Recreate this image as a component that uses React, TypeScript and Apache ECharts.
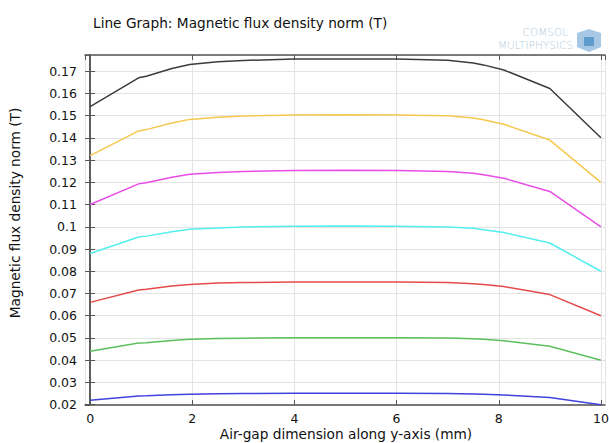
import React, { useEffect, useRef } from "react";
import * as echarts from "echarts";

const xValues = [0, 0.95, 1.1, 1.6, 1.95, 2.5, 3, 4, 5, 6, 7, 7.5, 7.7, 8.1, 9, 10];

const blackSeries = [0.154, 0.167, 0.1677, 0.1712, 0.173, 0.1742, 0.1748, 0.1754, 0.1755, 0.1754, 0.1749, 0.1737, 0.1728, 0.1705, 0.1622, 0.14];
const yellowSeries = [0.132, 0.1431, 0.1437, 0.1467, 0.1483, 0.1493, 0.1498, 0.1503, 0.1504, 0.1503, 0.1499, 0.1489, 0.1481, 0.1461, 0.139, 0.12];
const magentaSeries = [0.11, 0.1193, 0.1198, 0.1223, 0.1236, 0.1244, 0.1249, 0.1253, 0.1254, 0.1253, 0.1249, 0.1241, 0.1234, 0.1218, 0.1159, 0.1];
const cyanSeries = [0.088, 0.0954, 0.0958, 0.0978, 0.0989, 0.0995, 0.0999, 0.1002, 0.1003, 0.1002, 0.0999, 0.0993, 0.0987, 0.0974, 0.0927, 0.08];
const redSeries = [0.066, 0.0716, 0.0719, 0.0734, 0.0741, 0.0747, 0.0749, 0.0752, 0.0752, 0.0752, 0.075, 0.0744, 0.0741, 0.0731, 0.0695, 0.06];
const greenSeries = [0.044, 0.0477, 0.0479, 0.0489, 0.0494, 0.0498, 0.0499, 0.0501, 0.0501, 0.0501, 0.05, 0.0496, 0.0494, 0.0487, 0.0463, 0.04];
const blueSeries = [0.022, 0.0239, 0.024, 0.0245, 0.0247, 0.0249, 0.025, 0.0251, 0.0251, 0.0251, 0.025, 0.0248, 0.0247, 0.0244, 0.0232, 0.02];

const seriesList = [
  { name: "blue", values: blueSeries, color: "#4242e0" },
  { name: "green", values: greenSeries, color: "#5cbf5c" },
  { name: "red", values: redSeries, color: "#e44a4a" },
  { name: "cyan", values: cyanSeries, color: "#55eeee" },
  { name: "magenta", values: magentaSeries, color: "#e84de8" },
  { name: "yellow", values: yellowSeries, color: "#f5c84e" },
  { name: "black", values: blackSeries, color: "#3c3c3c" },
];

const titleText = "Line Graph: Magnetic flux density norm (T)";
const xAxisTitle = "Air-gap dimension along y-axis (mm)";
const yAxisTitle = "Magnetic flux density norm (T)";

const FONT = "DejaVu Sans";
const TITLE_SIZE = 13.7;

function fmt(step: number) {
  return (v: number) => {
    const r = Math.round(v / step) * step;
    if (Math.abs(v - r) > step * 1e-3) return "";
    return String(Number(r.toFixed(4)));
  };
}

export default function App() {
  const ref = useRef<HTMLDivElement>(null);
  useEffect(() => {
    if (!ref.current) return;
    const chart = echarts.init(ref.current, undefined, { renderer: "svg" });
    const axisLineStyle = { color: "#555", width: 1.5 };
    const gridLine = { show: true, lineStyle: { color: "#e4e4e4", width: 1 } };
    chart.setOption({
      animation: false,
      backgroundColor: "#fff",
      textStyle: { fontFamily: FONT },
      title: {
        text: titleText,
        left: 88,
        top: 11,
        textStyle: { fontFamily: FONT, fontSize: TITLE_SIZE, fontWeight: "normal", color: "#111" },
      },
      grid: { left: 85, right: 4, top: 55, bottom: 38, containLabel: false, outerBoundsMode: "none" },
      xAxis: [
        {
          type: "value",
          min: -0.1,
          max: 10.08,
          splitNumber: 5,
          axisLine: { show: true, lineStyle: axisLineStyle },
          axisTick: { show: true, inside: true, length: 5, lineStyle: { color: "#555" } },
          axisLabel: { showMinLabel: false, showMaxLabel: false, margin: 7, fontFamily: FONT, fontSize: 12.5, color: "#111", formatter: fmt(2) },
          splitLine: gridLine,
        },
        {
          type: "value",
          position: "top",
          min: -0.1,
          max: 10.08,
          splitNumber: 5,
          axisLine: { show: true, lineStyle: axisLineStyle },
          axisTick: { show: true, inside: true, length: 5, lineStyle: { color: "#555" } },
          axisLabel: { show: false },
          splitLine: { show: false },
        },
      ],
      yAxis: [
        {
          type: "value",
          min: 0.01986,
          max: 0.17725,
          splitNumber: 15,
          axisLine: { show: true, lineStyle: axisLineStyle },
          axisTick: { show: true, inside: true, length: 5, lineStyle: { color: "#555" } },
          axisLabel: { showMinLabel: false, showMaxLabel: false, margin: 8, fontFamily: FONT, fontSize: 12.5, color: "#111", formatter: fmt(0.01) },
          splitLine: gridLine,
        },
        {
          type: "value",
          position: "right",
          min: 0.01986,
          max: 0.17725,
          splitNumber: 15,
          axisLine: { show: true, lineStyle: axisLineStyle },
          axisTick: { show: true, inside: true, length: 5, lineStyle: { color: "#555" } },
          axisLabel: { show: false },
          splitLine: { show: false },
        },
      ],
      graphic: [
        {
          type: "text",
          x: 15,
          y: 213,
          rotation: Math.PI / 2,
          style: {
            text: yAxisTitle,
            fontFamily: FONT,
            fontSize: TITLE_SIZE,
            fill: "#111",
            align: "center",
            verticalAlign: "middle",
          },
        },
        {
          type: "text",
          x: 346,
          y: 434,
          style: {
            text: xAxisTitle,
            fontFamily: FONT,
            fontSize: TITLE_SIZE,
            fill: "#111",
            align: "center",
            verticalAlign: "middle",
          },
        },
        {
          type: "text",
          x: 568,
          y: 32,
          style: { text: "COMSOL", fontFamily: FONT, fontSize: 10.5, fontWeight: 200, fill: "#b4cce0", align: "right", verticalAlign: "middle" },
        },
        {
          type: "text",
          x: 573,
          y: 45,
          style: { text: "MULTIPHYSICS", fontFamily: FONT, fontSize: 10.5, fontWeight: 200, fill: "#b4cce0", align: "right", verticalAlign: "middle" },
        },
        {
          type: "polygon",
          shape: { points: [[589, 29], [601, 33], [601, 47], [589, 52], [577, 47], [577, 33]] },
          style: { fill: "#a6c8e4" },
        },
        {
          type: "polygon",
          shape: { points: [[584, 37], [594, 37], [594, 46], [584, 46]] },
          style: { fill: "#5f9ccc" },
        },
      ],
      series: seriesList.map((s) => ({
        type: "line",
        name: s.name,
        xAxisIndex: 0,
        yAxisIndex: 0,
        data: xValues.map((x, i) => [x, s.values[i]]),
        showSymbol: false,
        symbol: "none",
        lineStyle: { color: s.color, width: 1.5 },
        itemStyle: { color: s.color },
      })),
    });
    return () => chart.dispose();
  }, []);
  return <div ref={ref} style={{ position: "fixed", left: 0, top: 0, width: 609, height: 443 }} />;
}
